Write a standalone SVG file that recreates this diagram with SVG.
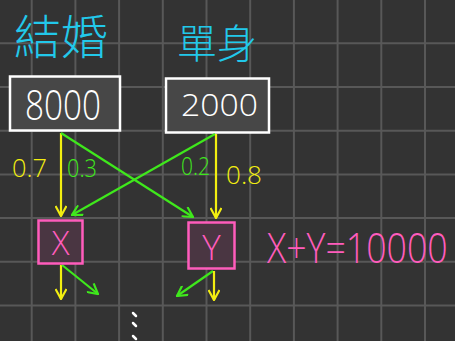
<svg xmlns="http://www.w3.org/2000/svg" width="455" height="341" viewBox="0 0 455 341">
<defs>
<style>
.grid line{stroke:#585858;stroke-width:2}
.cn{font-family:"Noto Sans CJK TC","Noto Sans CJK SC",sans-serif;font-weight:300;fill:#22c8ea}
.num{font-family:"Open Sans","Liberation Sans",sans-serif;font-weight:300}
.wbox{fill:#474747;stroke:#ffffff;stroke-width:2.5}
.pbox{fill:#4a3642;stroke:#ff5cbc;stroke-width:2.5}
.y{stroke:#f2ee10;stroke-width:2.2;fill:none}
.g{stroke:#3fe81c;stroke-width:2.2;fill:none}
</style>
<marker id="ay" viewBox="0 0 12 12" refX="11" refY="6" markerWidth="12" markerHeight="12" markerUnits="userSpaceOnUse" orient="auto"><path d="M1,0.5 L11,6 L1,11.5" fill="none" stroke="#f2ee10" stroke-width="2.2"/></marker>
<marker id="ag" viewBox="0 0 12 12" refX="11" refY="6" markerWidth="12" markerHeight="12" markerUnits="userSpaceOnUse" orient="auto"><path d="M1,0.5 L11,6 L1,11.5" fill="none" stroke="#3fe81c" stroke-width="2.2"/></marker>
</defs>
<rect width="455" height="341" fill="#333333"/>
<g class="grid">
<line x1="31.7" y1="0" x2="31.7" y2="341"/><line x1="75.4" y1="0" x2="75.4" y2="341"/><line x1="119.1" y1="0" x2="119.1" y2="341"/><line x1="162.8" y1="0" x2="162.8" y2="341"/><line x1="206.5" y1="0" x2="206.5" y2="341"/><line x1="250.2" y1="0" x2="250.2" y2="341"/><line x1="293.9" y1="0" x2="293.9" y2="341"/><line x1="337.6" y1="0" x2="337.6" y2="341"/><line x1="381.3" y1="0" x2="381.3" y2="341"/><line x1="425" y1="0" x2="425" y2="341"/>
<line x1="0" y1="43.3" x2="455" y2="43.3"/><line x1="0" y1="87" x2="455" y2="87"/><line x1="0" y1="130.7" x2="455" y2="130.7"/><line x1="0" y1="174.4" x2="455" y2="174.4"/><line x1="0" y1="218.1" x2="455" y2="218.1"/><line x1="0" y1="261.8" x2="455" y2="261.8"/><line x1="0" y1="305.5" x2="455" y2="305.5"/>
</g>
<g id="label-married"><text class="cn" x="14" y="54" font-size="47">結婚</text></g>
<g id="label-single"><text class="cn" x="177" y="58" font-size="40">單身</text></g>
<g id="node-8000"><rect class="wbox" x="10" y="76.5" width="110" height="54"/><text class="num" x="25" y="120" font-size="43" fill="#ffffff" textLength="76" lengthAdjust="spacingAndGlyphs">8000</text></g>
<g id="node-2000"><rect class="wbox" x="166" y="78.5" width="103" height="54"/><text class="num" x="181" y="116" font-size="31" fill="#ffffff" textLength="77" lengthAdjust="spacingAndGlyphs">2000</text></g>
<g id="connectors">
<line class="y" x1="61" y1="133" x2="61" y2="216" marker-end="url(#ay)"/>
<line class="g" x1="61" y1="133" x2="193" y2="217" marker-end="url(#ag)"/>
<line class="g" x1="215" y1="134" x2="72" y2="215" marker-end="url(#ag)"/>
<line class="y" x1="216" y1="134" x2="216" y2="218" marker-end="url(#ay)"/>
<line class="y" x1="61" y1="265" x2="61" y2="299" marker-end="url(#ay)"/>
<line class="g" x1="62" y1="265" x2="98" y2="294" marker-end="url(#ag)"/>
<line class="g" x1="213" y1="271" x2="177" y2="296" marker-end="url(#ag)"/>
<line class="y" x1="214" y1="271" x2="214" y2="300" marker-end="url(#ay)"/>
</g>
<g id="prob-labels" class="num" font-size="25">
<text x="12" y="177" fill="#f2ee10" textLength="35" lengthAdjust="spacingAndGlyphs">0.7</text>
<text x="67" y="177" fill="#3fe81c" textLength="30" lengthAdjust="spacingAndGlyphs">0.3</text>
<text x="181" y="175" fill="#3fe81c" textLength="29" lengthAdjust="spacingAndGlyphs">0.2</text>
<text x="226" y="184" fill="#f2ee10" textLength="36" lengthAdjust="spacingAndGlyphs">0.8</text>
</g>
<g id="node-x"><rect class="pbox" x="38.5" y="220.5" width="44" height="43"/><text class="num" x="60.5" y="255" font-size="33" fill="#ff5cbc" text-anchor="middle">X</text></g>
<g id="node-y"><rect class="pbox" x="188.5" y="222.5" width="46" height="46"/><text class="num" x="211.5" y="260" font-size="35" fill="#ff5cbc" text-anchor="middle">Y</text></g>
<g id="equation"><text class="num" x="0" y="0" font-size="35" fill="#ff5cbc" transform="translate(267,263) scale(1.02,1.22)">X+Y=10000</text></g>
<g id="dots" stroke="#ffffff" stroke-width="2.5" stroke-linecap="round">
<line x1="133" y1="313" x2="136" y2="316"/><line x1="133" y1="323" x2="136" y2="326"/><line x1="133" y1="336" x2="136" y2="339"/>
</g>
</svg>
